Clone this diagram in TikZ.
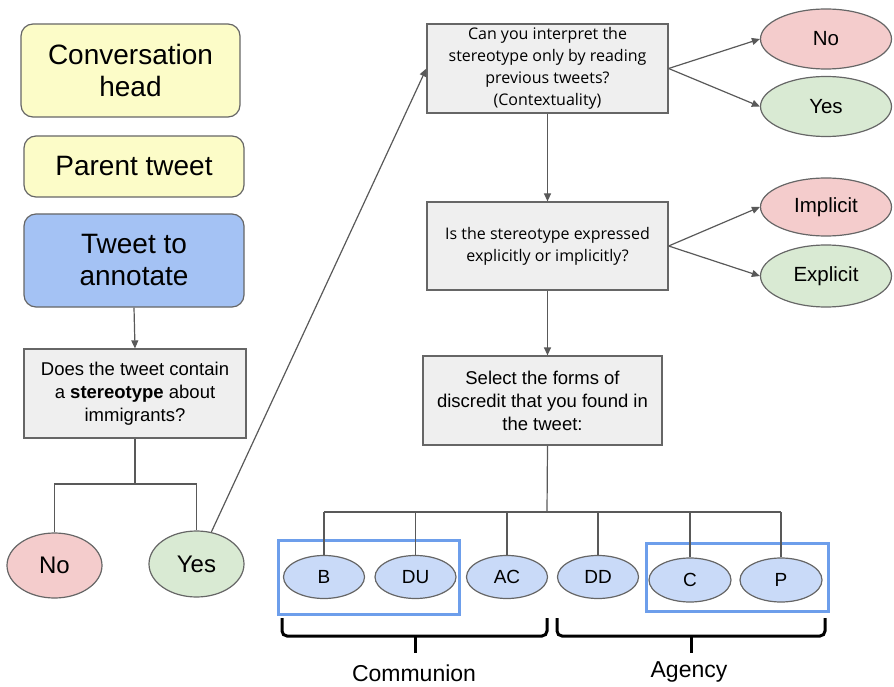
\documentclass[tikz,border=0pt]{standalone}
\usepackage{fontspec}
\setmainfont{Liberation Sans}
\newfontfamily\osans{Open Sans}
\usetikzlibrary{shapes.geometric,arrows.meta}
\definecolor{cyellow}{RGB}{252,252,200}
\definecolor{cblue}{RGB}{164,194,244}
\definecolor{cq}{RGB}{239,239,239}
\definecolor{cpink}{RGB}{244,204,204}
\definecolor{cgreen}{RGB}{217,234,211}
\definecolor{clight}{RGB}{201,218,248}
\definecolor{cgroup}{RGB}{109,158,235}
\definecolor{cgray}{RGB}{102,102,102}
\definecolor{cline}{RGB}{89,89,89}
\begin{document}
\begin{tikzpicture}[x=1pt,y=-1pt,
  rbox/.style={draw=cgray, line width=1.2pt, rounded corners=12pt, align=center, inner sep=0pt},
  qbox/.style={draw=cgray, fill=cq, line width=1.2pt, align=center, inner sep=0pt},
  oval/.style={ellipse, draw=cgray, line width=1.2pt, inner sep=0pt},
  conn/.style={draw=cline, line width=1.2pt},
  arr/.style={conn, -{Triangle[length=8pt,width=7pt]}},
  grp/.style={draw=cgroup, line width=3pt},
  brace/.style={draw=black, line width=3pt, rounded corners=5pt},
  big/.style={font=\fontsize{28}{32}\selectfont},
  mid/.style={font=\fontsize{18.5}{23}\selectfont},
  osq/.style={font=\osans\fontsize{16}{22}\selectfont},
  ansL/.style={font=\fontsize{24}{28}\selectfont},
  ansR/.style={font=\fontsize{20.5}{24}\selectfont},
  small/.style={font=\fontsize{19}{22}\selectfont},
  lab/.style={font=\fontsize{23}{27}\selectfont}]
\useasboundingbox (0,0) rectangle (894,687);

% left column
\node[rbox, fill=cyellow, big, minimum width=219pt, minimum height=93pt] (conv) at (130.5,70.5) {Conversation\\head};
\node[rbox, fill=cyellow, big, minimum width=220pt, minimum height=61pt] (parent) at (134,166.5) {Parent tweet};
\node[rbox, fill=cblue, big, minimum width=220pt, minimum height=93pt] (tweet) at (134,260.5) {Tweet to\\annotate};
\node[qbox, mid, minimum width=222pt, minimum height=89pt] (dq) at (135,393.5) {Does the tweet contain\\a \textbf{stereotype} about\\immigrants?};
\node[oval, fill=cpink, ansL, minimum width=95pt, minimum height=65pt] (noL) at (54.5,565.5) {No};
\node[oval, fill=cgreen, ansL, minimum width=95pt, minimum height=66pt] (yesL) at (196.5,564) {Yes};

% right column
\node[qbox, osq, minimum width=241pt, minimum height=89pt] (q1) at (547.5,68.5) {Can you interpret the\\stereotype only by reading\\previous tweets?\\(Contextuality)};
\node[oval, fill=cpink, ansR, minimum width=131pt, minimum height=60pt] (noR) at (826,39) {No};
\node[oval, fill=cgreen, ansR, minimum width=131pt, minimum height=60pt] (yesR) at (826,106.5) {Yes};
\node[qbox, osq, minimum width=241pt, minimum height=88pt] (q2) at (547.5,246) {Is the stereotype expressed\\explicitly or implicitly?};
\node[oval, fill=cpink, ansR, minimum width=131pt, minimum height=58pt] (impl) at (826,207) {Implicit};
\node[oval, fill=cgreen, ansR, minimum width=131pt, minimum height=62pt] (expl) at (826,276) {Explicit};
\node[qbox, mid, minimum width=239pt, minimum height=89pt] (q3) at (542.5,400.5) {Select the forms of\\discredit that you found in\\the tweet:};

% bottom ellipses
\node[oval, fill=clight, small, minimum width=81pt, minimum height=43pt] (fB) at (324,577) {B};
\node[oval, fill=clight, small, minimum width=81pt, minimum height=43pt] (fDU) at (415.5,577) {DU};
\node[oval, fill=clight, small, minimum width=81pt, minimum height=43pt] (fAC) at (507,577) {AC};
\node[oval, fill=clight, small, minimum width=81pt, minimum height=43pt] (fDD) at (598,577) {DD};
\node[oval, fill=clight, small, minimum width=82pt, minimum height=44pt] (fC) at (690,580) {C};
\node[oval, fill=clight, small, minimum width=82pt, minimum height=44pt] (fP) at (781,580) {P};

% group rectangles
\draw[grp] (278,540) rectangle (459,614);
\draw[grp] (646,543) rectangle (828,611);

% connectors left
\draw[arr] (tweet.south) -- (dq.north);
\draw[conn] (dq.south) -- (dq.south |- 0,484);
\draw[conn] (noL.north) -- (noL.north |- 0,484) -- (yesL.north |- 0,484) -- (yesL.north);
\draw[arr] (yesL) -- (q1.west);

% connectors right
\draw[arr] (q1.east) -- (noR.west);
\draw[arr] (q1.east) -- (yesR.west);
\draw[arr] (q1.south) -- (q1.south |- q2.north);
\draw[arr] (q2.east) -- (impl.west);
\draw[arr] (q2.east) -- (expl.west);
\draw[arr] (q2.south) -- (q2.south |- q3.north);

% tree to forms
\coordinate (tr) at (547,512);
\draw[conn] (q2.south |- q3.south) -- (tr);
\draw[conn] (fB.north |- tr) -- (fP.north |- tr);
\foreach \n in {fB,fDU,fAC,fDD,fC,fP} \draw[conn] (\n.north) -- (\n.north |- tr);

% braces
\coordinate (cmL) at (282,618);
\coordinate (cmR) at (547,618);
\coordinate (cmT) at (415,653);
\draw[brace] (cmL) |- (cmT |- 0,636) -| (cmR);
\draw[brace] (cmT |- 0,636) -- (cmT);
\coordinate (agL) at (557,618);
\coordinate (agR) at (825,618);
\coordinate (agT) at (691,653);
\draw[brace] (agL) |- (agT |- 0,636) -| (agR);
\draw[brace] (agT |- 0,636) -- (agT);

\node[lab] (comm) at (414,673) {Communion};
\node[lab] (agen) at (689,672) {Agency};
\end{tikzpicture}
\end{document}
